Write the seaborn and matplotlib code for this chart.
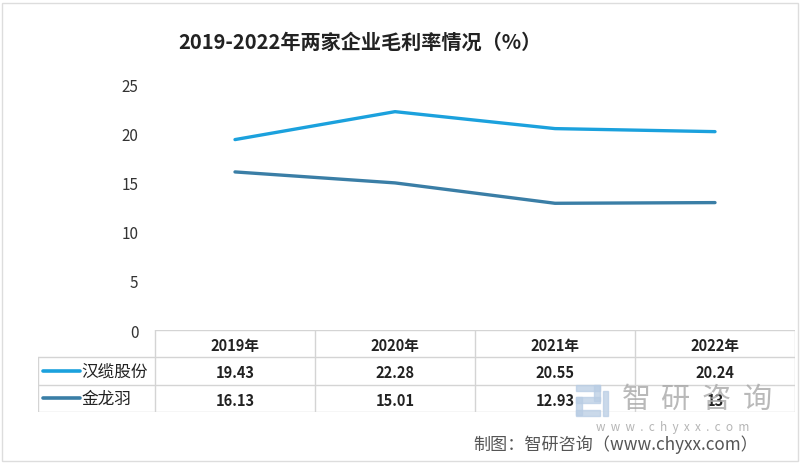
import numpy as np
import pandas as pd
import matplotlib
matplotlib.use("Agg")
import matplotlib.pyplot as plt
import seaborn as sns

years = ["2019年", "2020年", "2021年", "2022年"]
companies = ["汉缆股份", "金龙羽"]
hanlan = [19.43, 22.28, 20.55, 20.24]
jinlongyu = [16.13, 15.01, 12.93, 13]
table_text = [["19.43", "22.28", "20.55", "20.24"],
              ["16.13", "15.01", "12.93", "13"]]
colors = ["#1ba1dd", "#3a7ea6"]

df = pd.DataFrame({
    "year": years * 2,
    "company": [companies[0]] * 4 + [companies[1]] * 4,
    "rate": hanlan + jinlongyu,
})
df["pos"] = list(range(4)) * 2

sns.set_theme(style="white")
plt.rcParams["font.family"] = ["Noto Sans CJK SC", "DejaVu Sans"]

fig = plt.figure(figsize=(8, 4.64), dpi=100)
W, H = 800, 464


def fig_rect(x0, y0, x1, y1):
    return [x0 / W, 1 - y1 / H, (x1 - x0) / W, (y1 - y0) / H]


ax = fig.add_axes(fig_rect(155, 86, 795, 331))
sns.lineplot(data=df, x="pos", y="rate", hue="company", palette=colors,
             linewidth=2.4, legend=False, ax=ax)
ax.set_xlim(-0.5, 3.5)
ax.set_ylim(0, 25)
ax.set_yticks([0, 5, 10, 15, 20, 25])
ax.set_xticks([])
ax.set_xlabel("")
ax.set_ylabel("")
ax.tick_params(axis="y", length=0, pad=12, labelsize=11, labelcolor="#333333")
for s in ax.spines.values():
    s.set_visible(False)

# data table below the plot
tax = fig.add_axes(fig_rect(38, 331, 795, 413))
left = -0.5 - (155 - 38) / 160
tax.set_xlim(left, 3.5)
tax.set_ylim(3, 0)
tax.axis("off")
grid = "#d4d4d4"
tax.plot([-0.5, 3.5], [0, 0], color=grid, lw=1)
for yy in [1, 2, 3]:
    tax.plot([left, 3.5], [yy, yy], color=grid, lw=1)
tax.plot([left, left], [1, 3], color=grid, lw=1)
for xx in [-0.5, 0.5, 1.5, 2.5, 3.5]:
    tax.plot([xx, xx], [0, 3], color=grid, lw=1)
for i, y in enumerate(years):
    tax.text(i, 0.55, y, ha="center", va="center", fontsize=10.5,
             fontweight="bold", color="#222222")
for r, name in enumerate(companies):
    tax.plot([left + 0.03, left + 0.26], [r + 1.5, r + 1.5], color=colors[r], lw=2.6)
    tax.text(left + 0.27, r + 1.5, name, ha="left", va="center", fontsize=12,
             color="#222222")
    for i, v in enumerate(table_text[r]):
        tax.text(i, r + 1.55, v, ha="center", va="center", fontsize=10.5,
                 fontweight="bold", color="#222222", zorder=5)

fig.text(360 / W, 1 - 42 / H, "2019-2022年两家企业毛利率情况（%）", ha="center",
         va="center", fontsize=14.5, fontweight="bold", color="#222222")

# watermark
for cx, ch in zip([636, 675, 716, 757], "智研咨询"):
    fig.text(cx / W, 1 - 400 / H, ch, ha="center", va="center", fontsize=21,
             fontweight="light", color="#a8a8a8", alpha=0.8, zorder=1)
fig.text(673 / W, 1 - 428 / H, "w  w  w  .  c  h  y  x  x  .  c  o  m", ha="center",
         va="center", fontsize=8.5, color="#b5b5b5")
for (x0, y0, w, h) in [(576, 386, 24, 6), (594, 386, 6, 16), (576, 398, 24, 6),
                       (576, 398, 6, 18), (576, 411, 24, 6), (603, 392, 5, 25)]:
    fig.patches.append(plt.Rectangle((x0 / W, 1 - (y0 + h) / H), w / W, h / H,
                                     transform=fig.transFigure, color="#b9cde4",
                                     alpha=0.75, zorder=0))
fig.text(616 / W, 1 - 445 / H, "制图：智研咨询（www.chyxx.com）", ha="center",
         va="center", fontsize=12.3, color="#555555")

# outer frame
fig.patches.append(plt.Rectangle((2 / W, 2 / H), 796 / W, 458 / H,
                                 transform=fig.transFigure, fill=False,
                                 ec="#dddddd", lw=1))

fig.savefig("out.png", dpi=100)
